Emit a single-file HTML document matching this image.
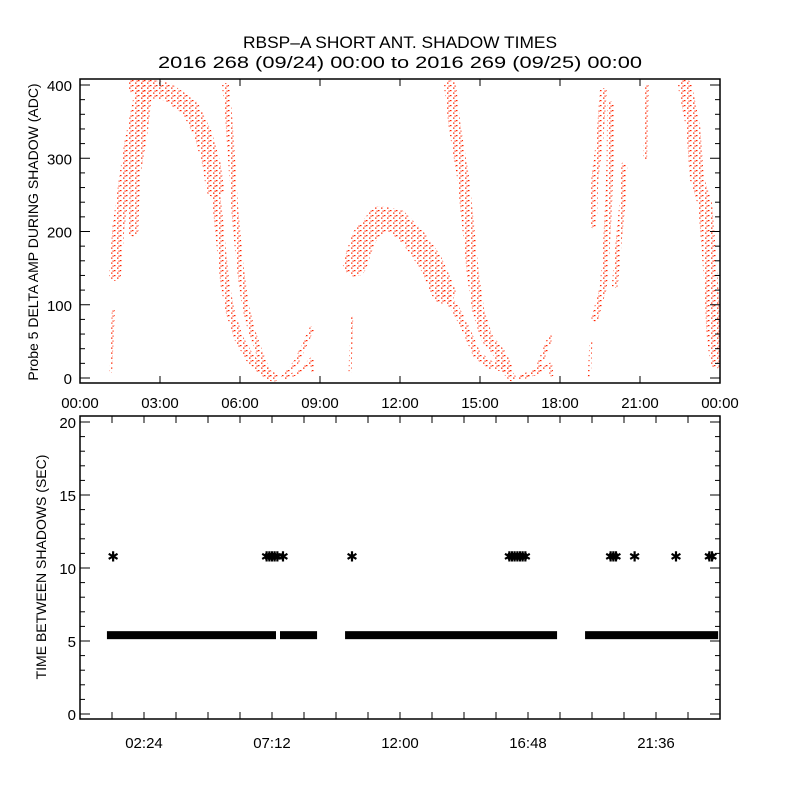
<!DOCTYPE html>
<html><head><meta charset="utf-8"><style>
html,body{margin:0;padding:0;background:#fff;}
svg text{font-family:"Liberation Sans",sans-serif;fill:#000;}
</style></head><body>
<svg id="c" width="800" height="800" viewBox="0 0 800 800" xmlns="http://www.w3.org/2000/svg">
<defs>
<pattern id="dots" patternUnits="userSpaceOnUse" width="6" height="5">
<rect x="0" y="0" width="1.5" height="1.2" fill="#ff2400"/>
<rect x="3" y="2.5" width="1.5" height="1.2" fill="#ff2400"/>
<rect x="4.5" y="0.5" width="1.2" height="1.2" fill="#ff2400"/>
</pattern>
<clipPath id="tc"><rect x="80" y="79" width="640" height="304"/></clipPath>
</defs>
<text x="400" y="48" text-anchor="middle" font-size="17" textLength="314" lengthAdjust="spacingAndGlyphs">RBSP–A SHORT ANT. SHADOW TIMES</text>
<text x="400" y="68" text-anchor="middle" font-size="17" textLength="484" lengthAdjust="spacingAndGlyphs">2016 268 (09/24) 00:00 to 2016 269 (09/25) 00:00</text>
<g id="topPanel"></g>
<g id="botPanel"></g>
<text transform="translate(38,232) rotate(-90)" text-anchor="middle" font-size="14">Probe 5 DELTA AMP DURING SHADOW (ADC)</text>
<text transform="translate(46,567) rotate(-90)" text-anchor="middle" font-size="14">TIME BETWEEN SHADOWS (SEC)</text>
</svg>
<script>
// ---- top panel data: branch centerlines (hours, ADC) ----
const branchNames = ["rise1","rise1b","early","top","desc1","desc2","hump1a","hump1b","mid-early","mid-hump","mid-tail","desc3","hump2a","hump2b","late-early","late-a","late-b","late-c","late-d","late-e"];
const branchTimes = [
 [1.31,1.44,1.69,1.875,2.13,2.31],
 [2.0,2.06,2.37,2.5],
 [1.15,1.25],
 [2.13,3.25,4.13,4.62,4.94,5.06],
 [5.06,5.19,5.31,5.44,5.63,5.94,6.38,6.87,7.25],
 [5.46,5.56,5.69,5.81,5.98,6.19,6.44,6.75,7.06],
 [7.63,8.13,8.69],
 [7.75,8.25,8.69,8.75],
 [10.13,10.19],
 [10.31,10.63,11.25,11.88,12.5,13.13,13.63],
 [13.63,14.13,14.5,14.88,15.38,15.88,16.19],
 [13.88,14.06,14.37,14.56,14.75,14.94,15.25,15.75,16.0],
 [16.5,17.13,17.63],
 [16.6,17.2,17.63,17.68],
 [19.1,19.16],
 [19.31,19.62,19.73,19.81,19.88,19.9],
 [19.25,19.31,19.5,19.62],
 [20.06,20.19,20.37,20.41],
 [21.19,21.25],
 [22.69,23.0,23.13,23.44,23.56,23.69,23.75,23.88]
];
const branchValues = [
 [141,205,273,318,364,398],
 [200,273,341,387],
 [9,91],
 [398,391,369,332,291,259],
 [259,218,173,127,91,55,27,9,1],
 [398,364,296,228,159,100,64,32,4],
 [1,23,67],
 [1,9,26,9],
 [9,82],
 [155,191,218,214,191,159,118],
 [118,91,64,32,18,14,1],
 [398,341,273,205,137,91,55,32,14],
 [1,9,55],
 [1,8,18,5],
 [1,50],
 [82,123,173,228,296,373],
 [209,273,328,391],
 [127,182,250,291],
 [300,398],
 [398,341,273,237,182,114,64,23]
];
const branchWidths = [12,10,3,18,9,7,5,4,3,24,8,12,5,4,3,7,7,6,4,14];

// ---- bottom panel data ----
const segStart = [1.01,7.5,9.94,18.94];
const segEnd = [7.35,8.89,17.89,23.93];
const segValue = [5.4,5.4,5.4,5.4];
const starTimes = [1.24,7.0,7.1,7.2,7.3,7.4,7.61,10.2,16.1,16.2,16.3,16.4,16.5,16.6,16.7,19.9,20.0,20.1,20.8,22.35,23.6,23.7];
const starValues = [10.8,10.8,10.8,10.8,10.8,10.8,10.8,10.8,10.8,10.8,10.8,10.8,10.8,10.8,10.8,10.8,10.8,10.8,10.8,10.8,10.8,10.8];
const topXTicks = ["00:00","03:00","06:00","09:00","12:00","15:00","18:00","21:00","00:00"];
const topYTicks = [0,100,200,300,400];
const botXTicks = ["02:24","07:12","12:00","16:48","21:36"];
const botYTicks = [0,5,10,15,20];

const NS="http://www.w3.org/2000/svg";
const L=80,R=720;
const xs=h=>L+(h/24)*(R-L);
const yTop=v=>378-v*0.7325;
const yBot=v=>714-v*14.6;
function mk(tag,attrs,parent){const e=document.createElementNS(NS,tag);for(const k in attrs)e.setAttribute(k,attrs[k]);parent.appendChild(e);return e;}

const topG=document.getElementById('topPanel');
const botG=document.getElementById('botPanel');

const dataG=mk('g',{'clip-path':'url(#tc)'},topG);


branchTimes.forEach((ts,i)=>{
  const pts=ts.map((t,j)=>xs(t).toFixed(1)+','+yTop(branchValues[i][j]).toFixed(1)).join(' ');
  const p=mk('polyline',{points:pts,fill:'none',stroke:'url(#dots)','stroke-width':branchWidths[i],'stroke-linejoin':'round','stroke-linecap':'round'},dataG);
  
  
});
const tf=mk('rect',{x:L,y:79,width:R-L,height:304,fill:'none',stroke:'#000','stroke-width':1.5},topG);


for(let v=0;v<=400;v+=20){const y=yTop(v);const len=v%100===0?10:5;
 mk('line',{x1:L,x2:L+len,y1:y,y2:y,stroke:'#000'},topG);mk('line',{x1:R,x2:R-len,y1:y,y2:y,stroke:'#000'},topG);}
topYTicks.forEach(v=>{const t=mk('text',{x:72,y:yTop(v)+6,'text-anchor':'end','font-size':15},topG);t.textContent=v;
 
 });
topXTicks.forEach((s,i)=>{const x=xs(i*3);
 mk('line',{x1:x,x2:x,y1:383,y2:376,stroke:'#000'},topG);mk('line',{x1:x,x2:x,y1:79,y2:86,stroke:'#000'},topG);
 const t=mk('text',{x:x,y:408,'text-anchor':'middle','font-size':15},topG);t.textContent=s;
 
 });

segStart.forEach((s,i)=>{const x1=xs(s),x2=xs(segEnd[i]),y=yBot(segValue[i]);
 const r=mk('rect',{x:x1,y:y-4,width:x2-x1,height:8,fill:'#000'},botG);
 
 });
starTimes.forEach((t,i)=>{const s=mk('text',{x:xs(t),y:yBot(starValues[i])+5,'text-anchor':'middle','font-size':14},botG);s.textContent='✱';
 
 });
const bf=mk('rect',{x:L,y:416,width:R-L,height:303,fill:'none',stroke:'#000','stroke-width':1.5},botG);


for(let v=0;v<=20;v+=1){const y=yBot(v);const len=v%5===0?10:5;
 mk('line',{x1:L,x2:L+len,y1:y,y2:y,stroke:'#000'},botG);mk('line',{x1:R,x2:R-len,y1:y,y2:y,stroke:'#000'},botG);}
botYTicks.forEach(v=>{const t=mk('text',{x:76,y:yBot(v)+6,'text-anchor':'end','font-size':15},botG);t.textContent=v;
 
 });
for(let h=1.2;h<24;h+=1.2){const x=xs(h);
 mk('line',{x1:x,x2:x,y1:719,y2:712,stroke:'#000'},botG);mk('line',{x1:x,x2:x,y1:416,y2:423,stroke:'#000'},botG);}
botXTicks.forEach((s,i)=>{const t=mk('text',{x:xs(2.4+i*4.8),y:748,'text-anchor':'middle','font-size':15},botG);t.textContent=s;
 
 });
</script>
</body></html>
